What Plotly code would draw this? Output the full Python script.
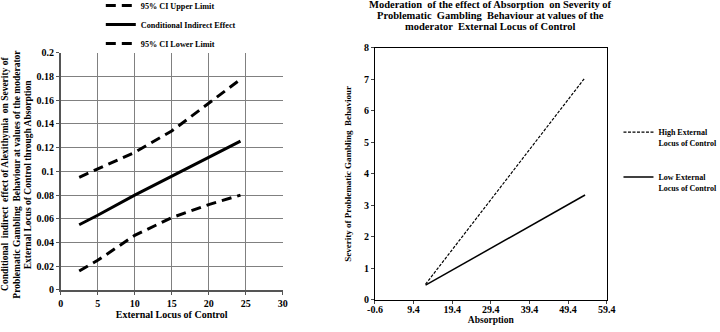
import plotly.graph_objects as go

# ---------------- Left chart data ----------------
elc_x = [2.5, 5, 10, 15, 20, 24.3]
ci_upper = [0.095, 0.102, 0.116, 0.134, 0.157, 0.1775]
cond_effect = [0.055, 0.063, 0.080, 0.096, 0.112, 0.1255]
ci_lower = [0.016, 0.025, 0.046, 0.061, 0.072, 0.080]

left_xticks = [0, 5, 10, 15, 20, 25, 30]
left_yticks = [0, 0.02, 0.04, 0.06, 0.08, 0.1, 0.12, 0.14, 0.16, 0.18, 0.2]
left_yticklabels = ["0", "0.02", "0.04", "0.06", "0.08", "0.1", "0.12", "0.14", "0.16", "0.18", "0.2"]
left_ytitle_lines = [
    "Conditional\u00a0 indirect\u00a0 effect of Alexithymia\u00a0 on Severity of",
    "Problematic Gambling\u00a0 Behaviour at values of the moderator",
    "External Locus of Control through Absorption",
]

# ---------------- Right chart data ----------------
absorption_x = [12.5, 53.8]
high_elc = [0.50, 7.05]
low_elc = [0.47, 3.33]

right_xticks = [-0.6, 9.4, 19.4, 29.4, 39.4, 49.4, 59.4]
right_xticklabels = ["-0.6", "9.4", "19.4", "29.4", "39.4", "49.4", "59.4"]
right_yticks = [0, 1, 2, 3, 4, 5, 6, 7, 8]
right_title_lines = [
    "Moderation\u00a0 of the effect of Absorption\u00a0 on Severity of",
    "Problematic\u00a0 Gambling\u00a0 Behaviour at values of the",
    "moderator\u00a0 External Locus of Control",
]

FONT = "Liberation Serif"

fig = go.Figure()

fig.add_trace(go.Scatter(x=elc_x, y=ci_upper, mode="lines", name="95% CI Upper Limit",
                         line=dict(color="black", width=3, dash="10px,6px"),
                         xaxis="x", yaxis="y", legend="legend"))
fig.add_trace(go.Scatter(x=elc_x, y=cond_effect, mode="lines", name="Conditional Indirect Effect",
                         line=dict(color="black", width=3),
                         xaxis="x", yaxis="y", legend="legend"))
fig.add_trace(go.Scatter(x=elc_x, y=ci_lower, mode="lines", name="95% CI Lower Limit",
                         line=dict(color="black", width=3, dash="10px,6px"),
                         xaxis="x", yaxis="y", legend="legend"))

fig.add_trace(go.Scatter(x=absorption_x, y=high_elc, mode="lines",
                         name="High External<br>Locus of Control", legendgroup="h",
                         line=dict(color="black", width=1.2, dash="3px,1.5px"),
                         xaxis="x2", yaxis="y2", legend="legend2"))
fig.add_trace(go.Scatter(x=absorption_x, y=low_elc, mode="lines",
                         name="Low External<br>Locus of Control", legendgroup="l",
                         line=dict(color="black", width=1.5),
                         xaxis="x2", yaxis="y2", legend="legend2"))

tickfont = dict(family=FONT, size=10, color="black", weight="bold")

annotations = []
for i, txt in enumerate(left_ytitle_lines):
    annotations.append(dict(text=txt, xref="paper", yref="paper",
                            x=[0.0069, 0.0232, 0.0394][i], y=0.476,
                            xanchor="center", yanchor="middle", textangle=-90,
                            showarrow=False,
                            font=dict(family=FONT, size=9.5, color="black", weight="bold")))
for i, txt in enumerate(right_title_lines):
    annotations.append(dict(text=txt, xref="paper", yref="paper",
                            x=0.6806, y=[0.985, 0.952, 0.919][i],
                            xanchor="center", yanchor="middle", showarrow=False,
                            font=dict(family=FONT, size=10.5, color="black", weight="bold")))

fig.update_layout(
    width=720, height=332,
    margin=dict(l=0, r=0, t=0, b=0, autoexpand=False),
    paper_bgcolor="white", plot_bgcolor="white",
    font=dict(family=FONT, size=10, color="black", weight="bold"),
    showlegend=True,
    xaxis=dict(domain=[0.0843, 0.3926], range=[0, 30], tickvals=left_xticks,
               showgrid=True, gridcolor="#808080", gridwidth=1, automargin=False,
               showline=True, linecolor="#555555", linewidth=1.5,
               ticks="outside", ticklen=3, tickcolor="#555555", tickfont=tickfont,
               zeroline=False, fixedrange=True,
               title=dict(text="External Locus of Control", standoff=2,
                          font=dict(family=FONT, size=10, weight="bold"))),
    yaxis=dict(domain=[0.1265, 0.8413], range=[0, 0.2], tickvals=left_yticks,
               ticktext=left_yticklabels, automargin=False,
               showgrid=True, gridcolor="#808080", gridwidth=1,
               showline=True, linecolor="#555555", linewidth=1.5,
               ticks="outside", ticklen=3, tickcolor="#555555", tickfont=tickfont,
               zeroline=False, fixedrange=True),
    xaxis2=dict(domain=[0.5208, 0.8426], range=[-0.6, 59.4], tickvals=right_xticks,
                ticktext=right_xticklabels, anchor="y2", automargin=False,
                showgrid=False, showline=True, mirror=True, linecolor="black", linewidth=1,
                ticks="outside", ticklen=3, tickfont=tickfont, zeroline=False,
                ticklabelstandoff=-3, fixedrange=True,
                title=dict(text="Absorption", standoff=2,
                           font=dict(family=FONT, size=9.5, weight="bold"))),
    yaxis2=dict(domain=[0.0964, 0.8563], range=[0, 8], tickvals=right_yticks, anchor="x2",
                automargin=False, fixedrange=True,
                showgrid=False, showline=True, mirror=True, linecolor="black", linewidth=1,
                ticks="outside", ticklen=3, tickfont=tickfont, zeroline=False,
                title=dict(text="Severity of Problematic Gambling\u00a0 Behaviour", standoff=10,
                           font=dict(family=FONT, size=9, weight="bold"))),
    annotations=annotations,
    legend=dict(x=0.14, y=1.027, xanchor="left", yanchor="top", bgcolor="rgba(0,0,0,0)",
                font=dict(family=FONT, size=8.2, weight="bold"), itemwidth=30,
                tracegroupgap=0),
    legend2=dict(x=0.859, y=0.637, xanchor="left", yanchor="top", bgcolor="rgba(0,0,0,0)",
                 font=dict(family=FONT, size=8, weight="bold"), valign="top",
                 tracegroupgap=21, itemwidth=30),
)

fig.write_html("out.html", config={"displayModeBar": False},
               post_script="document.body.style.margin='0';")
